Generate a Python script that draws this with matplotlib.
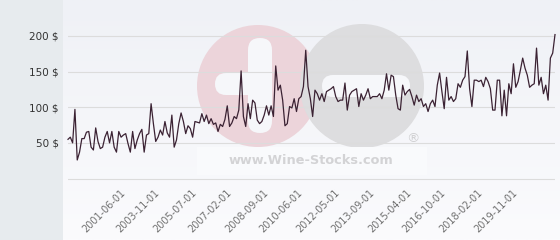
import numpy as np
import matplotlib.pyplot as plt
from matplotlib.patches import Circle, FancyBboxPatch, Rectangle
from matplotlib.colors import LinearSegmentedColormap

# price readings, left to right (category axis, one per sale date)
prices_early = [55, 58, 50, 97, 26, 37, 56, 56, 65, 66,
                44, 40, 71, 52, 42, 44, 58, 66, 50, 66,
                44, 37, 66, 58, 61, 63, 49, 37, 66, 42,
                54, 63, 69, 37, 61, 63, 105, 77, 52, 58,
                68, 61, 80, 64, 58, 89, 44, 54, 77, 92,
                80, 63, 74, 70, 58, 80, 79, 78, 91, 80,
                89, 77, 84, 76, 78, 66, 76, 73, 83, 102,
                73, 78, 87, 84, 96, 151, 87, 73, 105, 84,
                110, 106, 82, 77, 80, 89, 102, 89, 102, 87,
                158, 124, 131, 110, 74]
prices_late = [77, 101, 99, 112, 94, 112, 115, 129, 180, 129,
               112, 87, 124, 119, 110, 119, 108, 122, 124, 126,
               129, 115, 108, 110, 110, 134, 96, 117, 122, 124,
               126, 101, 119, 110, 117, 126, 112, 115, 115, 115,
               119, 112, 124, 147, 124, 145, 143, 117, 98, 96,
               131, 117, 122, 125, 115, 103, 117, 108, 112, 101,
               105, 94, 105, 110, 101, 131, 148, 122, 98, 142,
               110, 115, 108, 112, 133, 128, 138, 143, 179, 126,
               101, 138, 138, 136, 138, 129, 142, 136, 126, 96,
               96, 138, 138, 88, 124, 88, 133, 119, 161, 128,
               136, 152, 169, 155, 145, 128, 131, 133, 183, 131,
               142, 119, 131, 110, 169, 176, 202]
prices = prices_early + prices_late

date_labels = ['2001-06-01', '2003-11-01', '2005-07-01', '2007-02-01',
               '2008-09-01', '2010-06-01', '2012-05-01', '2013-09-01',
               '2015-04-01', '2016-10-01', '2018-02-01', '2019-11-01']
y_ticks = [50, 100, 150, 200]

W, H = 560, 240
fig = plt.figure(figsize=(W / 100, H / 100), dpi=100)
fig.patch.set_facecolor('#e7ebee')

# plot-area background gradient
bg = fig.add_axes([63 / W, 0, (W - 63) / W, 1], zorder=0)
cmap = LinearSegmentedColormap.from_list('bg', ['#eff1f6', '#fbfbfd'])
bg.imshow(np.linspace(0, 1, 100).reshape(-1, 1), aspect='auto', cmap=cmap)
bg.axis('off')

# watermark, pixel coordinates
wm = fig.add_axes([0, 0, 1, 1], zorder=0.5)
wm.set_xlim(0, W)
wm.set_ylim(H, 0)
wm.axis('off')
wm.patch.set_alpha(0)
wm.add_patch(Circle((258, 86), 61, color='#ecd4da', lw=0))
wm.add_patch(Circle((362, 86), 62, color='#dddddf', lw=0))
bar_col = '#f6f7fa'
wm.add_patch(FancyBboxPatch((248, 38), 24, 95, boxstyle='round,pad=0,rounding_size=12',
                            color=bar_col, lw=0))
wm.add_patch(FancyBboxPatch((215, 73), 57, 22, boxstyle='round,pad=0,rounding_size=11',
                            color=bar_col, lw=0))
wm.add_patch(FancyBboxPatch((322, 75), 88, 22, boxstyle='round,pad=0,rounding_size=11',
                            color=bar_col, lw=0))
wm.add_patch(Rectangle((197, 147), 230, 28, color='#f9fafc', lw=0))
wm.text(311, 161, 'www.Wine-Stocks.com', ha='center', va='center',
        fontsize=9.3, fontweight='bold', color='#d3d3d5')
wm.text(413, 139, '®', ha='center', va='center', fontsize=9.5, color='#d0d0d2')

# main chart
x0, x1 = 68, 555
y_bot, y_top = 182, 20
y_zero = 178.5
px_per_usd = (y_zero - 36) / 200
ax = fig.add_axes([x0 / W, 1 - y_bot / H, (x1 - x0) / W, (y_bot - y_top) / H], zorder=1)
ax.patch.set_alpha(0)
x = np.arange(len(prices))
ax.plot(x, prices, color='#3b2233', lw=0.9, clip_on=False)
ax.set_xlim(0, len(prices) - 1)
ax.set_ylim(-(y_bot - y_zero) / px_per_usd, (y_zero - y_top) / px_per_usd)

for s in ax.spines.values():
    s.set_visible(False)
ax.set_yticks([0] + y_ticks)
ax.set_yticklabels([''] + [f'{v} $' for v in y_ticks], fontsize=7.5, color='#333333')
ax.grid(axis='y', color='#dcdcdc', lw=0.8)
ax.tick_params(axis='y', length=0, pad=6.5)

tick_pos = np.round(np.linspace(24, 194, len(date_labels)))
ax.set_xticks(tick_pos)
ax.set_xticklabels(date_labels, rotation=45, ha='right', va='center',
                   rotation_mode='anchor', fontsize=7, color='#707070')
ax.tick_params(axis='x', length=0, pad=6.5)

fig.savefig('out.png', dpi=100)
